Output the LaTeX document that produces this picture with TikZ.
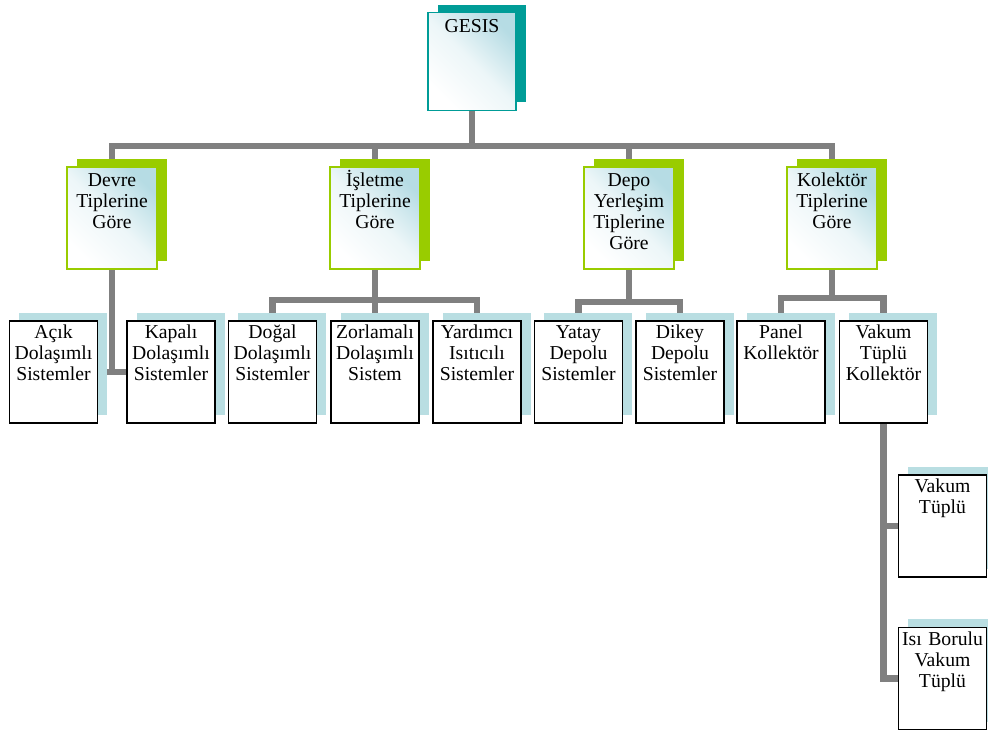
\documentclass[tikz,border=0pt]{standalone}
\usepackage{fontspec}
\setmainfont{Liberation Serif}
\usetikzlibrary{shadows, backgrounds}
\definecolor{gesisteal}{RGB}{0,156,151}
\definecolor{grassgreen}{RGB}{153,204,0}
\definecolor{palecyan}{RGB}{185,222,226}
\definecolor{shadecyan}{RGB}{182,220,228}
\definecolor{linkgray}{RGB}{128,128,128}
\tikzstyle{link} = [draw=linkgray, line width=4.6pt]
\tikzstyle{rootbox} = [draw=gesisteal, line width=0.8pt, top color=shadecyan, bottom color=white, middle color=shadecyan!25!white, shading angle=-45,
  text width=2.2cm, align=center, inner sep=0pt, outer sep=0pt, text height=0.5cm, text depth=1.93cm,
  general shadow={fill=gesisteal, shadow xshift=0.24cm, shadow yshift=0.2cm}]
\tikzstyle{groupbox} = [draw=grassgreen, line width=1pt, top color=shadecyan, bottom color=white, middle color=shadecyan!25!white, shading angle=-45,
  text width=2.25cm, align=center, inner sep=0pt, outer sep=0pt, text height=0.5cm, text depth=2.05cm,
  general shadow={fill=grassgreen, shadow xshift=0.25cm, shadow yshift=0.2cm}]
\tikzstyle{leafbox} = [draw=black, line width=1pt, fill=white,
  text width=2.2cm, align=center, inner sep=0pt, outer sep=0pt, text height=0.44cm, text depth=2.11cm,
  general shadow={fill=palecyan, shadow xshift=0.24cm, shadow yshift=0.2cm}]

\begin{document}
\begin{tikzpicture}[x=0.025cm, y=-0.025cm, font=\fontsize{14}{14.9}\selectfont]
  \clip (0,0) rectangle (988,731);

  % --- root
  \node[rootbox] (gesis) at (472, 61.5) {GESIS};

  % --- groups
  \node[groupbox] (devre) at (112, 218) {Devre\\Tiplerine\\Göre};
  \node[groupbox] (isletme) at (375, 218) {İşletme\\Tiplerine\\Göre};
  \node[groupbox] (depo) at (629, 218) {Depo\\Yerleşim\\Tiplerine\\Göre};
  \node[groupbox] (kolektor) at (832, 218) {Kolektör\\Tiplerine\\Göre};

  % --- devre
  \node[leafbox] (acik) at (53.5, 372) {Açık\\Dolaşımlı\\Sistemler};
  \node[leafbox] (kapali) at (171, 372) {Kapalı\\Dolaşımlı\\Sistemler};
  % --- isletme
  \node[leafbox] (dogal) at (272.5, 372) {Doğal\\Dolaşımlı\\Sistemler};
  \node[leafbox] (zorlamali) at (375, 372) {Zorlamalı\\Dolaşımlı\\Sistem};
  \node[leafbox] (yardimci) at (477, 372) {Yardımcı\\Isıtıcılı\\Sistemler};
  % --- depo
  \node[leafbox] (yatay) at (578.5, 372) {Yatay\\Depolu\\Sistemler};
  \node[leafbox] (dikey) at (680, 372) {Dikey\\Depolu\\Sistemler};
  % --- kolektor
  \node[leafbox] (panel) at (781, 372) {Panel\\Kollektör};
  \node[leafbox] (vakumk) at (883.5, 372) {Vakum\\Tüplü\\Kollektör};
  \node[leafbox] (vakumt) at (942.5, 526) {Vakum\\Tüplü};
  \node[leafbox] (isiboru) at (942.5, 678.5) {Isı Borulu\\Vakum\\Tüplü};

  % --- connectors
  \begin{scope}[on background layer]
    \coordinate (topbar) at (472, 146);
    \coordinate (islbar) at (375, 300);
    \coordinate (depbar) at (629, 302);
    \coordinate (kolbar) at (832, 298);
    \draw[link] (gesis) -- (topbar);
    \foreach \grp in {devre, isletme, depo, kolektor}
      \draw[link] (topbar) -| (\grp);
    \draw[link] (devre) |- (acik.east);
    \draw[link] (devre) |- (kapali.west);
    \draw[link] (isletme) -- (islbar);
    \foreach \lf in {dogal, zorlamali, yardimci}
      \draw[link] (islbar) -| (\lf);
    \draw[link] (depo) -- (depbar);
    \foreach \lf in {yatay, dikey}
      \draw[link] (depbar) -| (\lf);
    \draw[link] (kolektor) -- (kolbar);
    \foreach \lf in {panel, vakumk}
      \draw[link] (kolbar) -| (\lf);
    \draw[link] (vakumk) |- (vakumt);
    \draw[link] (vakumk) |- (isiboru);
  \end{scope}

\end{tikzpicture}
\end{document}
